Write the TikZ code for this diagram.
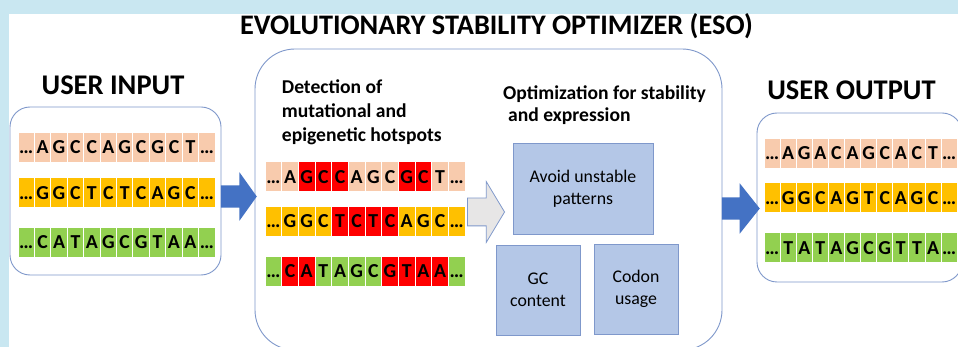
\documentclass[tikz,border=0pt]{standalone}
\usepackage{fontspec}
\setmainfont{Carlito}
\usetikzlibrary{shapes.arrows}

\definecolor{bgblue}{RGB}{201,231,241}
\definecolor{edgeblue}{RGB}{127,152,203}
\definecolor{boxblue}{RGB}{180,199,231}
\definecolor{arrowblue}{RGB}{68,114,196}
\definecolor{arrowgray}{RGB}{231,230,230}
\definecolor{pk}{RGB}{248,203,173}
\definecolor{yl}{RGB}{255,192,0}
\definecolor{gr}{RGB}{146,208,80}
\definecolor{rd}{RGB}{255,0,0}

% one row of nucleotide cells: name prefix, left x, centre y, cell width, letter/colour list
\newcommand\seqrow[5]{%
  \foreach \ch/\cl [count=\i from 0] in {#5} {
    \node[cell, fill=\cl, minimum width=#4] (#1-\i) at ({#2+(\i+0.5)*#4},#3) {\ch};
  }%
}

\begin{document}
\begin{tikzpicture}[x=1pt,y=-1pt,
  panel/.style={draw=edgeblue, line width=0.9pt, fill=white, inner sep=0},
  cell/.style={draw=white, line width=1pt, minimum height=30pt, inner sep=0,
    text height=12.8pt, text depth=0pt, font=\bfseries\fontsize{19.8}{21}\selectfont},
  optbox/.style={draw=edgeblue, line width=0.8pt, fill=boxblue, inner sep=0,
    align=center, font=\fontsize{17.8}{22}\selectfont},
  bigtitle/.style={anchor=base, inner sep=0, font=\bfseries\fontsize{28.5}{32}\selectfont},
  subhead/.style={anchor=base west, inner sep=0, font=\bfseries\fontsize{19.6}{22}\selectfont},
  blockarrow/.style={single arrow, anchor=tip, inner xsep=0pt, minimum width=0pt,
    text height=0pt, text depth=0pt},
]
\useasboundingbox (0,0) rectangle (958,347);
\fill[bgblue] (0,0) rectangle (958,347);
\fill[white] (9,14) rectangle (958,347);

% title
\node[anchor=base, inner sep=0, font=\bfseries\fontsize{28.3}{30}\selectfont]
  (title) at (496.5,35) {EVOLUTIONARY STABILITY OPTIMIZER (ESO)};

% panels
\node[panel, rounded corners=20pt, minimum width=211pt, minimum height=168pt]
  (inbox) at (115.5,191) {};
\node[panel, rounded corners=40pt, minimum width=467pt, minimum height=301pt]
  (midbox) at (488.5,199.5) {};
\node[panel, rounded corners=20pt, minimum width=205pt, minimum height=169pt]
  (outbox) at (859.5,197.5) {};

\node[bigtitle] (intitle) at (113,95) {USER INPUT};
\node[bigtitle] (outtitle) at (851.5,100) {USER OUTPUT};

% input sequences
\seqrow{inA}{18}{147.5}{16.42pt}{…/pk,A/pk,G/pk,C/pk,C/pk,A/pk,G/pk,C/pk,G/pk,C/pk,T/pk,…/pk}
\seqrow{inB}{18}{193}{16.42pt}{…/yl,G/yl,G/yl,C/yl,T/yl,C/yl,T/yl,C/yl,A/yl,G/yl,C/yl,…/yl}
\seqrow{inC}{18}{242.5}{16.42pt}{…/gr,C/gr,A/gr,T/gr,A/gr,G/gr,C/gr,G/gr,T/gr,A/gr,A/gr,…/gr}

% hotspot detection
\node[subhead] (det1) at (281.7,93.3) {Detection of};
\node[subhead] (det2) at (281.7,117.5) {mutational and};
\node[subhead] (det3) at (281.7,141.7) {epigenetic hotspots};

\seqrow{hsA}{265}{177}{16.67pt}{…/pk,A/pk,G/rd,C/rd,C/rd,A/pk,G/pk,C/pk,G/rd,C/rd,T/pk,…/pk}
\seqrow{hsB}{265}{221.5}{16.67pt}{…/yl,G/yl,G/yl,C/yl,T/rd,C/rd,T/rd,C/rd,A/yl,G/yl,C/yl,…/yl}
\seqrow{hsC}{265}{271.5}{16.67pt}{…/gr,C/rd,A/rd,T/gr,A/gr,G/gr,C/gr,G/rd,T/rd,A/rd,A/rd,…/gr}

% optimisation
\node[subhead] (opt1) at (503,100) {Optimization for stability};
\node[subhead] (opt2) at (508,121.7) {and expression};

\node[optbox, minimum width=140pt, minimum height=91pt] (avoid) at (583,188.5)
  {Avoid unstable\\patterns};
\node[optbox, minimum width=84pt, minimum height=90pt] (gc) at (538,290)
  {GC\\content};
\node[optbox, minimum width=84pt, minimum height=90pt] (codon) at (636,289)
  {Codon\\usage};

% output sequences
\seqrow{outA}{764}{153.5}{16.1pt}{…/pk,A/pk,G/pk,A/pk,C/pk,A/pk,G/pk,C/pk,A/pk,C/pk,T/pk,…/pk}
\seqrow{outB}{764}{198}{16.1pt}{…/yl,G/yl,G/yl,C/yl,A/yl,G/yl,T/yl,C/yl,A/yl,G/yl,C/yl,…/yl}
\seqrow{outC}{764}{248}{16.1pt}{…/gr,T/gr,A/gr,T/gr,A/gr,G/gr,C/gr,G/gr,T/gr,T/gr,A/gr,…/gr}

% block arrows between stages
\node[blockarrow, fill=arrowblue, inner ysep=11pt, single arrow head extend=13pt,
  single arrow tip angle=109, minimum height=36pt] (flowin) at (257,196.5) {};
\node[blockarrow, fill=arrowgray, draw=edgeblue, line width=0.8pt, inner ysep=13.5pt,
  single arrow head extend=16.5pt, single arrow tip angle=118, minimum height=37pt]
  (flowmid) at (505,212) {};
\node[blockarrow, fill=arrowblue, inner ysep=11pt, single arrow head extend=14pt,
  single arrow tip angle=103, minimum height=38pt] (flowout) at (760,208.5) {};
\end{tikzpicture}
\end{document}
